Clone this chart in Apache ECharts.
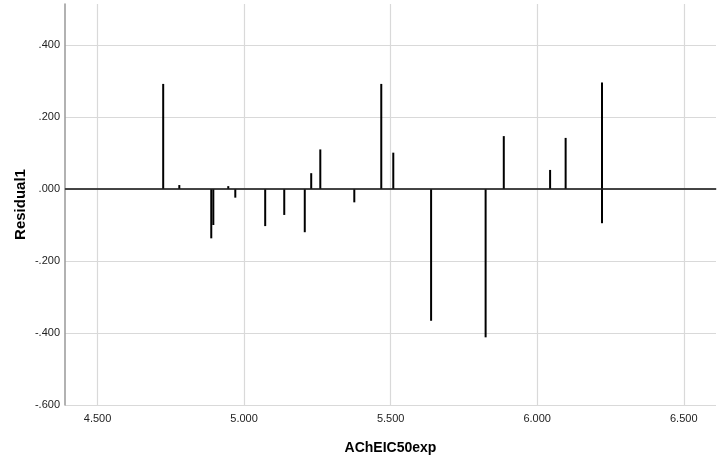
<!DOCTYPE html>
<html>
<head>
<meta charset="utf-8">
<script src="https://cdn.jsdelivr.net/npm/echarts@6/dist/echarts.min.js"></script>
<style>html,body{margin:0;padding:0;background:#fff}#c{width:728px;height:461px}</style>
</head>
<body>
<div id="c"></div>
<script>
var xValues = [4.724, 4.779, 4.888, 4.895, 4.946, 4.970, 5.072, 5.137, 5.207, 5.229, 5.260, 5.376, 5.468, 5.509, 5.638, 5.824, 5.886, 6.044, 6.097, 6.221, 6.221];
var residuals = [0.292, 0.011, -0.137, -0.100, 0.008, -0.024, -0.103, -0.072, -0.120, 0.044, 0.110, -0.037, 0.292, 0.101, -0.366, -0.412, 0.147, 0.053, 0.142, 0.296, -0.095];
var xTicks = [4.5, 5.0, 5.5, 6.0, 6.5];
var yTicks = [-0.6, -0.4, -0.2, 0.0, 0.2, 0.4];
var xTitle = 'AChEIC50exp';
var yTitle = 'Residual1';

var data = xValues.map(function (x, i) { return [x, residuals[i]]; });
var font = '"Liberation Sans Narrow", "Liberation Sans", Arial, sans-serif';

function fmtY(v) {
  var s = Math.abs(v).toFixed(3).replace(/^0/, '');
  return (v < -1e-9 ? '-' : '') + s;
}
function fmtX(v) {
  return v.toFixed(3);
}

var chart = echarts.init(document.getElementById('c'));
chart.setOption({
  animation: false,
  grid: { left: 65, top: 4, right: 12, bottom: 56 },
  xAxis: {
    type: 'value', min: 4.389, max: 6.61,
    name: xTitle, nameLocation: 'middle', nameGap: 36, nameMoveOverlap: false,
    nameTextStyle: { fontFamily: 'Liberation Sans, Arial', fontWeight: 'bold', fontSize: 14, color: '#000' },
    axisLine: { show: true, lineStyle: { color: '#999', width: 1.5 } },
    axisTick: { show: false, customValues: xTicks },
    axisLabel: { customValues: xTicks, formatter: fmtX, fontFamily: font, fontSize: 11, color: '#222', margin: 8 },
    splitLine: { show: true, lineStyle: { color: '#d9d9d9', width: 1.2 } }
  },
  yAxis: {
    type: 'value', min: -0.6, max: 0.514,
    name: yTitle, nameLocation: 'middle', nameGap: 37, nameRotate: 90, nameMoveOverlap: false,
    nameTextStyle: { fontFamily: 'Liberation Sans, Arial', fontWeight: 'bold', fontSize: 15, color: '#000' },
    axisLine: { show: true, lineStyle: { color: '#999', width: 1.5 } },
    axisTick: { show: false, customValues: yTicks },
    axisLabel: { customValues: yTicks, formatter: fmtY, fontFamily: font, fontSize: 11, color: '#222', margin: 5 },
    splitLine: { show: true, lineStyle: { color: '#d9d9d9', width: 1.2 } }
  },
  series: [{
    type: 'bar',
    data: data,
    barWidth: 2,
    itemStyle: { color: '#000' },
    markLine: {
      silent: true, symbol: 'none', label: { show: false },
      lineStyle: { color: '#222', width: 1.5, type: 'solid' },
      data: [{ yAxis: 0 }]
    }
  }]
});
</script>
</body>
</html>
